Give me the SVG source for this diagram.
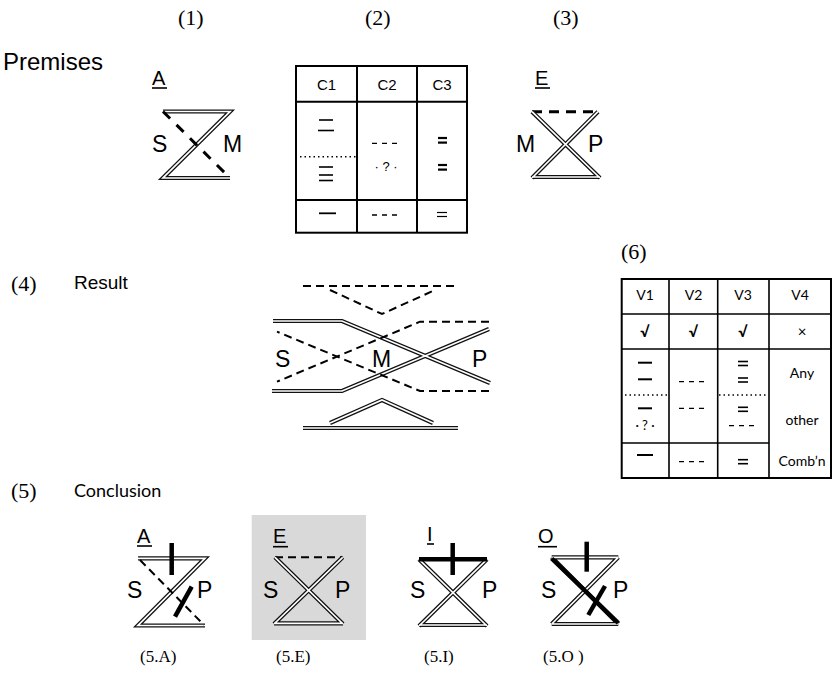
<svg xmlns="http://www.w3.org/2000/svg" xmlns:xlink="http://www.w3.org/1999/xlink" width="832" height="690" viewBox="0 0 832 690">
<style>
.sans{font-family:"Liberation Sans",Arial,sans-serif;fill:#000}
.serif{font-family:"Liberation Serif","Times New Roman",serif;fill:#000}
.cal{font-family:Lato,"Open Sans",sans-serif;fill:#000}
.big{font-size:23px}
.lbl{font-size:20px}
.num{font-size:22px}
.cap{font-size:17px}
.dbo{fill:none;stroke:#111;stroke-width:4.2;stroke-linejoin:miter}
.dbi{fill:none;stroke:#fff;stroke-width:1.7;stroke-linejoin:miter}
.dsh{fill:none;stroke:#000;stroke-width:2.6;stroke-dasharray:9 7}
.dsh2{fill:none;stroke:#000;stroke-width:2;stroke-dasharray:8 5}
.thick{fill:none;stroke:#000;stroke-width:4.5}
.ul{stroke:#000;stroke-width:1.6}
.grid{fill:none;stroke:#000;stroke-width:2}
.gl{stroke:#000;stroke-width:1.6}
.dot{stroke:#000;stroke-width:1.4;stroke-dasharray:1.5 3}
.dash3{stroke:#000;stroke-width:1.3;stroke-dasharray:5 5}
.bar{stroke:#000;stroke-width:1.6}
.beq{stroke:#000;stroke-width:2.2}
</style>
<defs>
<path id="a1" d="M163,111.5 H230 L163,178 H230"/>
<path id="e1" d="M532,111.7 L600,178 M598,111.7 L532,178 M532,177 H600"/>
<path id="r1" d="M273,321 H342 L490,383 M272,391 H342 L489,329 M330,423 L382,400 L433,423 M303,428 H458"/>
<path id="ca" d="M138,558.3 H205 L138,625.5 H205"/>
<path id="ce" d="M275,557.3 L343,624 M342.7,557.3 L274,624 M274,623.3 H343"/>
<path id="ci" d="M419,559.3 L487,626 M487,559.3 L419,626 M419,625 H487"/>
<path id="co" d="M551.7,557.3 H618.3 M551.7,557.3 L618.3,624 M618.3,557.3 L551.7,624 M551.7,624 H618.3"/>
</defs>

<g id="headings">
<text class="serif num" x="178" y="25">(1)</text>
<text class="serif num" x="365" y="25">(2)</text>
<text class="serif num" x="553" y="25">(3)</text>
<text class="sans" style="font-size:24px" x="3" y="70">Premises</text>
<text class="serif num" x="11" y="291">(4)</text>
<text class="sans" style="font-size:19px" x="74" y="289">Result</text>
<text class="serif num" x="11" y="498">(5)</text>
<text class="cal" style="font-size:18px" x="74" y="497">Conclusion</text>
<text class="serif num" x="621" y="259">(6)</text>
</g>

<g id="node-premise-A">
<text class="sans lbl" x="152" y="85">A</text>
<line class="ul" x1="152" y1="88" x2="167" y2="88"/>
<use xlink:href="#a1" class="dbo"/>
<use xlink:href="#a1" class="dbi"/>
<line class="dsh" style="stroke-width:3;stroke-dasharray:10 9" x1="163" y1="111.5" x2="230" y2="178"/>
<text class="sans big" x="152" y="152">S</text>
<text class="sans big" x="223" y="152">M</text>
</g>

<g id="node-table-2">
<rect class="grid" x="296" y="66" width="171" height="166.7"/>
<line class="grid" x1="296" y1="101.7" x2="467" y2="101.7"/>
<line class="grid" x1="296" y1="200" x2="467" y2="200"/>
<line class="grid" x1="357" y1="66" x2="357" y2="232.7"/>
<line class="grid" x1="417" y1="66" x2="417" y2="232.7"/>
<text class="sans" style="font-size:15px" x="326.5" y="90" text-anchor="middle">C1</text>
<text class="sans" style="font-size:15px" x="387" y="90" text-anchor="middle">C2</text>
<text class="sans" style="font-size:15px" x="442" y="90" text-anchor="middle">C3</text>
<line class="bar" x1="319" y1="120" x2="333" y2="120"/>
<line class="bar" x1="318" y1="130.5" x2="334" y2="130.5"/>
<line class="dot" x1="300" y1="156.7" x2="356" y2="156.7"/>
<line class="bar" x1="319" y1="167" x2="333" y2="167"/>
<line class="bar" x1="319" y1="175" x2="333" y2="175"/>
<line class="bar" x1="319" y1="180.5" x2="333" y2="180.5"/>
<line class="dash3" x1="372" y1="143.3" x2="401" y2="143.3"/>
<text class="sans" style="font-size:13px" x="386" y="171" text-anchor="middle">· ? ·</text>
<line class="beq" x1="438" y1="138" x2="447" y2="138"/>
<line class="beq" x1="438" y1="142.6" x2="447" y2="142.6"/>
<line class="beq" x1="438" y1="165" x2="447" y2="165"/>
<line class="beq" x1="438" y1="169.6" x2="447" y2="169.6"/>
<line class="bar" style="stroke-width:1.8" x1="319" y1="213.3" x2="336" y2="213.3"/>
<line class="dash3" x1="372" y1="215" x2="401" y2="215"/>
<line class="bar" style="stroke-width:1.2" x1="437" y1="212.5" x2="447" y2="212.5"/>
<line class="bar" style="stroke-width:1.2" x1="437" y1="216.5" x2="447" y2="216.5"/>
</g>

<g id="node-premise-E">
<text class="sans lbl" x="535" y="85">E</text>
<line class="ul" x1="535" y1="88" x2="550" y2="88"/>
<line class="dsh" style="stroke-width:3;stroke-dasharray:10 7" x1="532" y1="111.7" x2="598" y2="111.7"/>
<use xlink:href="#e1" class="dbo"/>
<use xlink:href="#e1" class="dbi"/>
<text class="sans big" x="516" y="152">M</text>
<text class="sans big" x="588" y="152">P</text>
</g>

<g id="node-result">
<line class="dsh2" x1="303" y1="286" x2="458" y2="286"/>
<polyline class="dsh2" points="330,290 382,314 435,290"/>
<use xlink:href="#r1" class="dbo"/>
<use xlink:href="#r1" class="dbi"/>
<polyline class="dsh2" points="489,321.7 420,321.7 277,381.7"/>
<polyline class="dsh2" points="489,391 420,391 277,331.7"/>
<text class="sans big" x="275" y="367">S</text>
<text class="sans big" x="372" y="367">M</text>
<text class="sans big" x="472" y="367">P</text>
</g>

<g id="node-table-6">
<rect class="grid" x="621.7" y="279" width="209.3" height="199"/>
<line class="gl" x1="621.7" y1="314" x2="831" y2="314"/>
<line class="gl" x1="621.7" y1="349" x2="831" y2="349"/>
<line class="gl" x1="621.7" y1="443" x2="769" y2="443"/>
<line class="gl" x1="669" y1="279" x2="669" y2="478"/>
<line class="gl" x1="717.7" y1="279" x2="717.7" y2="478"/>
<line class="gl" x1="769" y1="279" x2="769" y2="478"/>
<line class="dot" x1="625" y1="395" x2="668" y2="395"/>
<line class="dot" x1="719" y1="395" x2="768" y2="395"/>
<text class="cal" style="font-size:14px" x="645" y="300" text-anchor="middle">V1</text>
<text class="cal" style="font-size:14px" x="693.5" y="300" text-anchor="middle">V2</text>
<text class="cal" style="font-size:14px" x="743" y="300" text-anchor="middle">V3</text>
<text class="cal" style="font-size:14px" x="800" y="300" text-anchor="middle">V4</text>
<text class="cal" style="font-size:15px;font-weight:bold" x="645" y="337" text-anchor="middle">√</text>
<text class="cal" style="font-size:15px;font-weight:bold" x="693.5" y="337" text-anchor="middle">√</text>
<text class="cal" style="font-size:15px;font-weight:bold" x="743" y="337" text-anchor="middle">√</text>
<text class="cal" style="font-size:15px" x="802" y="337" text-anchor="middle">×</text>
<line class="bar" style="stroke-width:2" x1="638" y1="362.7" x2="652" y2="362.7"/>
<line class="bar" style="stroke-width:2" x1="638" y1="379.3" x2="652" y2="379.3"/>
<line class="bar" style="stroke-width:2" x1="638" y1="408.3" x2="652" y2="408.3"/>
<text class="cal" style="font-size:13px" x="645" y="430" text-anchor="middle">· ? ·</text>
<line class="bar" style="stroke-width:2" x1="637" y1="455" x2="653" y2="455"/>
<line class="dash3" x1="679" y1="381.7" x2="708" y2="381.7"/>
<line class="dash3" x1="679" y1="408.3" x2="708" y2="408.3"/>
<line class="dash3" x1="679" y1="461.7" x2="708" y2="461.7"/>
<line class="bar" x1="738" y1="361.5" x2="748" y2="361.5"/>
<line class="bar" x1="738" y1="365.5" x2="748" y2="365.5"/>
<line class="bar" x1="738" y1="378" x2="748" y2="378"/>
<line class="bar" x1="738" y1="382" x2="748" y2="382"/>
<line class="bar" x1="738" y1="407.3" x2="748" y2="407.3"/>
<line class="bar" x1="738" y1="411.3" x2="748" y2="411.3"/>
<line class="dash3" x1="729" y1="425.7" x2="758" y2="425.7"/>
<line class="bar" x1="738" y1="459.7" x2="748" y2="459.7"/>
<line class="bar" x1="738" y1="463.7" x2="748" y2="463.7"/>
<text class="cal" style="font-size:14px" x="802" y="378" text-anchor="middle">Any</text>
<text class="cal" style="font-size:14px" x="802" y="425" text-anchor="middle">other</text>
<text class="cal" style="font-size:14px" x="802" y="466" text-anchor="middle">Comb’n</text>
</g>

<g id="node-concl-A">
<text class="sans lbl" x="137" y="543">A</text>
<line class="ul" x1="137" y1="546" x2="152" y2="546"/>
<use xlink:href="#ca" class="dbo"/>
<use xlink:href="#ca" class="dbi"/>
<line class="dsh2" x1="140" y1="560" x2="204" y2="625"/>
<line class="thick" x1="171.7" y1="543" x2="171.7" y2="575"/>
<line class="thick" x1="191.7" y1="586.7" x2="175" y2="616.7"/>
<text class="sans big" x="127" y="598">S</text>
<text class="sans big" x="197" y="598">P</text>
<text class="serif cap" x="140" y="662">(5.A)</text>
</g>

<g id="node-concl-E">
<rect x="251.7" y="515" width="114.3" height="125" fill="#d9d9d9"/>
<text class="sans lbl" x="273" y="543">E</text>
<line class="ul" x1="273" y1="546.7" x2="288" y2="546.7"/>
<line class="dsh2" x1="275" y1="557.3" x2="342.7" y2="557.3"/>
<use xlink:href="#ce" class="dbo"/>
<use xlink:href="#ce" class="dbi"/>
<text class="sans big" x="263" y="598">S</text>
<text class="sans big" x="335" y="598">P</text>
<text class="serif cap" x="276" y="662">(5.E)</text>
</g>

<g id="node-concl-I">
<text class="sans lbl" x="427" y="541">I</text>
<line class="ul" x1="427" y1="544" x2="434" y2="544"/>
<use xlink:href="#ci" class="dbo"/>
<use xlink:href="#ci" class="dbi"/>
<line class="thick" x1="419" y1="559.3" x2="487" y2="559.3"/>
<line class="thick" x1="452.7" y1="543" x2="452.7" y2="575"/>
<text class="sans big" x="410" y="598">S</text>
<text class="sans big" x="482" y="598">P</text>
<text class="serif cap" x="424" y="662">(5.I)</text>
</g>

<g id="node-concl-O">
<text class="sans lbl" x="538" y="543">O</text>
<line class="ul" x1="538" y1="546.7" x2="557" y2="546.7"/>
<use xlink:href="#co" class="dbo"/>
<use xlink:href="#co" class="dbi"/>
<line class="thick" x1="551.7" y1="558.5" x2="618.3" y2="623"/>
<line class="thick" x1="586.7" y1="541.7" x2="586.7" y2="571.7"/>
<line class="thick" x1="605" y1="586" x2="588.3" y2="615"/>
<text class="sans big" x="541" y="598">S</text>
<text class="sans big" x="613" y="598">P</text>
<text class="serif cap" x="543" y="662">(5.O )</text>
</g>

<g id="connectors"></g>
</svg>
